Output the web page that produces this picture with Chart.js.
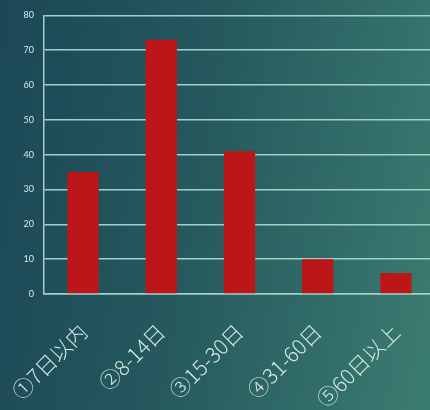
<!DOCTYPE html>
<html>
<head>
<meta charset="utf-8">
<script src="https://cdn.jsdelivr.net/npm/chart.js@4"></script>
<style>
  html, body { margin: 0; padding: 0; overflow: hidden; }
  #wrap {
    width: 430px; height: 410px; overflow: hidden; position: relative;
    background: linear-gradient(100deg, #1b4756 0%, #25595e 45%, #336f6a 80%, #3b7c71 100%);
  }
  #box { position: absolute; left: 0; top: 0; width: 435px; height: 410px; }
</style>
</head>
<body>
<div id="wrap"><div id="box"><canvas id="c" width="435" height="410"></canvas></div></div>
<script>
// 滞留日数の区分と件数
const categories = ['①7日以内', '②8-14日', '③15-30日', '④31-60日', '⑤60日以上'];
const counts = [35, 73, 41, 10, 6];
const yTicks = [0, 10, 20, 30, 40, 50, 60, 70, 80];

const lineColor = '#a3d0c8';
const textColor = '#d6ebe5';

new Chart(document.getElementById('c'), {
  type: 'bar',
  data: {
    labels: categories,
    datasets: [{
      data: counts,
      backgroundColor: '#bd1619',
      borderWidth: 0,
      categoryPercentage: 0.8,
      barPercentage: 0.5
    }]
  },
  options: {
    responsive: false,
    animation: false,
    events: [],
    layout: { padding: { top: 11, right: 0, left: 0, bottom: 0 } },
    plugins: { legend: { display: false }, tooltip: { enabled: false } },
    scales: {
      x: {
        grid: { display: false, drawTicks: false },
        border: { display: true, color: lineColor, width: 1.5 },
        ticks: {
          color: textColor,
          font: { family: '"Noto Sans CJK JP", sans-serif', size: 21, weight: 300 },
          maxRotation: 45,
          minRotation: 45,
          padding: 25,
          autoSkip: false
        },
        afterFit(scale) {
          scale.height = 116;
          scale.paddingLeft = 0;
          scale.paddingRight = 0;
        }
      },
      y: {
        min: 0,
        max: 80,
        afterBuildTicks(scale) { scale.ticks = yTicks.map(v => ({ value: v })); },
        grid: { color: lineColor, lineWidth: 1.5, drawTicks: false },
        border: { display: true, color: lineColor, width: 1.5 },
        ticks: {
          color: textColor,
          font: { family: 'Lato, sans-serif', size: 9 },
          padding: 10
        },
        afterFit(scale) { scale.width = 44; }
      }
    }
  }
});
</script>
</body>
</html>
